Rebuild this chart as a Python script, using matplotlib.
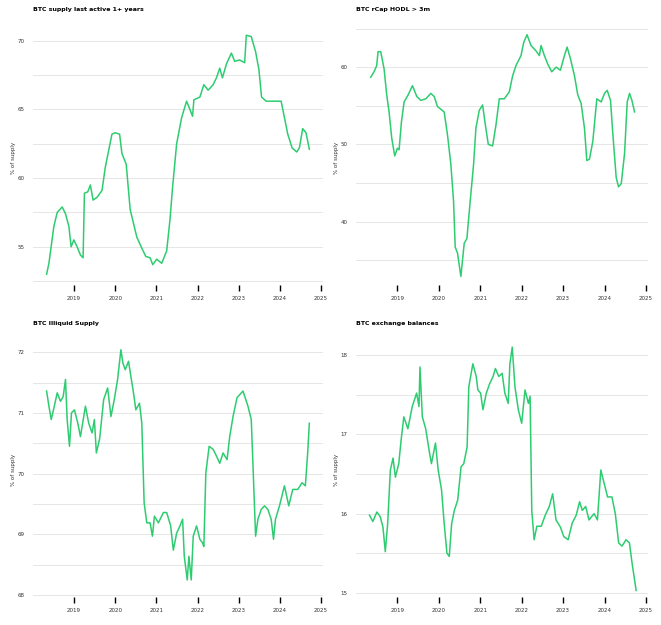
import matplotlib
matplotlib.use("Agg")
import matplotlib.pyplot as plt
import numpy as np

# ---- data (x in zoom-px converted to decimal years) ----
s1_x = [138,145,160,170,185,195,205,212,220,230,240,248,252,262,270,278,290,305,315,325,335,345,358,365,378,390,400,410,425,437,450,458,470,485,500,510,518,530,545,560,570,578,582,600,612,625,640,650,660,668,680,695,705,720,735,740,755,768,778,786,800,815,830,845,855,865,878,892,900,910,920,930]
s1_y = [53.0,53.8,56.5,57.5,57.9,57.4,56.5,55.0,55.5,55.0,54.4,54.2,58.9,59.0,59.5,58.4,58.6,59.1,60.8,62.0,63.2,63.3,63.2,61.8,61.0,57.7,56.7,55.7,54.9,54.3,54.2,53.7,54.1,53.8,54.7,57.0,59.4,62.5,64.4,65.6,65.0,64.5,65.7,65.9,66.8,66.4,66.8,67.3,68.0,67.3,68.3,69.1,68.5,68.6,68.4,70.4,70.3,69.2,67.9,65.9,65.6,65.6,65.6,65.6,64.4,63.2,62.2,61.9,62.2,63.6,63.3,62.1]

s2_x = [120,130,138,142,150,160,168,175,183,192,200,205,212,220,232,245,258,270,285,300,310,320,340,350,360,368,373,380,390,400,408,418,428,435,445,455,462,472,485,495,505,520,535,545,555,570,578,588,600,615,625,630,640,650,662,675,688,700,708,718,730,740,750,760,767,775,785,797,810,820,828,838,845,855,862,870,880,888,895,902,910]
s2_y = [58.7,59.4,60.2,62.0,62.0,59.8,56.4,54.2,50.8,48.5,49.5,49.3,52.9,55.5,56.4,57.6,56.2,55.7,55.9,56.6,56.2,54.9,54.2,51.2,47.4,42.7,36.7,35.9,32.9,37.2,37.8,42.7,47.4,52.1,54.4,55.1,52.9,50.0,49.8,52.5,55.9,55.9,56.8,58.9,60.2,61.5,63.2,64.2,62.8,62.1,61.5,62.8,61.5,60.4,59.4,60.0,59.6,61.5,62.6,61.1,58.9,56.4,55.3,52.1,47.9,48.1,50.4,55.9,55.5,56.6,57.0,55.7,51.3,45.7,44.5,44.9,48.8,55.5,56.6,55.7,54.2]

s3_x = [138,145,152,160,170,180,188,195,200,207,213,222,232,240,255,265,275,282,288,298,310,322,332,342,352,362,368,375,385,392,400,407,418,425,432,440,450,457,463,475,490,500,512,520,530,540,548,553,562,567,574,580,590,600,608,612,618,628,640,650,660,670,682,690,700,712,730,745,755,768,775,785,795,805,815,822,828,840,855,868,880,895,908,918,925,930]
s3_y = [71.36,71.11,70.89,71.08,71.33,71.19,71.27,71.55,70.89,70.45,71.0,71.05,70.83,70.61,71.11,70.83,70.67,70.89,70.34,70.58,71.22,71.41,70.94,71.22,71.55,72.04,71.82,71.71,71.85,71.60,71.33,71.05,71.16,70.83,69.52,69.19,69.19,68.97,69.30,69.19,69.36,69.36,69.14,68.74,69.02,69.14,69.25,68.64,68.25,68.64,68.25,68.97,69.14,68.92,68.86,68.80,70.01,70.45,70.40,70.29,70.17,70.34,70.23,70.61,70.94,71.25,71.36,71.11,70.89,68.97,69.25,69.41,69.47,69.41,69.25,68.92,69.25,69.47,69.80,69.47,69.74,69.74,69.85,69.80,70.34,70.83]

s4_x = [118,128,140,150,158,165,172,180,188,195,205,212,220,232,245,258,265,268,275,285,295,302,314,322,332,340,348,355,362,370,380,390,398,408,413,425,435,440,448,455,465,475,485,492,502,512,520,530,535,542,550,560,570,580,590,595,600,607,615,628,640,652,662,672,685,695,708,720,732,742,750,760,770,785,795,805,815,825,838,848,858,868,880,890,898,910]
s4_y = [15.98,15.90,16.02,15.96,15.83,15.52,15.87,16.55,16.70,16.46,16.63,16.93,17.22,17.07,17.35,17.52,17.35,17.85,17.22,17.07,16.80,16.63,16.89,16.55,16.30,15.87,15.50,15.46,15.87,16.04,16.17,16.59,16.63,16.84,17.60,17.89,17.73,17.56,17.52,17.31,17.52,17.64,17.73,17.83,17.73,17.77,17.52,17.39,17.89,18.10,17.60,17.31,17.14,17.56,17.39,17.48,16.04,15.67,15.84,15.84,15.98,16.09,16.25,15.92,15.83,15.71,15.67,15.88,15.98,16.15,16.04,16.09,15.92,16.00,15.92,16.55,16.38,16.21,16.21,16.00,15.63,15.59,15.67,15.63,15.37,15.03]

titles = ["BTC supply last active 1+ years", "BTC rCap HODL > 3m",
          "BTC Illiquid Supply", "BTC exchange balances"]
year_ticks = [2019, 2020, 2021, 2022, 2023, 2024, 2025]

def to_year(xs, x2019, per_year):
    return [2019 + (x - x2019) / per_year for x in xs]

series = [
    (to_year(s1_x, 221, 124), s1_y, (52.0, 71.0), [55, 60, 65, 70], 2.5),
    (to_year(s2_x, 200, 124), s2_y, (31.4, 65.2), [40, 50, 60], 5),
    (to_year(s3_x, 221, 124), s3_y, (67.92, 72.2), [68, 69, 70, 71, 72], 0.5),
    (to_year(s4_x, 201, 123), s4_y, (14.91, 18.19), [15, 16, 17, 18], 0.5),
]

W, H = 661, 625
fig = plt.figure(figsize=(W/100, H/100), dpi=100)
boxes = [(33, 323, 27, 288), (356, 648, 27, 288), (33, 323, 340, 600), (356, 648, 340, 600)]
green = "#2ecc71"

for (xs, ys, ylim, majors, step), (l, r, t, b), title in zip(series, boxes, titles):
    ax = fig.add_axes([l/W, 1 - b/H, (r-l)/W, (b-t)/H])
    ax.plot(xs, ys, color=green, lw=1.1)
    ax.set_xlim(2018.0, 2025.05)
    ax.set_ylim(*ylim)
    ax.set_yticks(majors)
    ax.set_yticklabels([str(m) for m in majors])
    grid = np.arange(np.ceil(ylim[0]/step)*step, ylim[1], step)
    for g in grid:
        ax.axhline(g, color="#e6e6e6", lw=0.7, zorder=0)
    ax.set_xticks(year_ticks)
    ax.set_xticklabels([str(y) for y in year_ticks])
    for s in ax.spines.values():
        s.set_visible(False)
    ax.tick_params(axis="y", length=0, labelsize=4, pad=6, labelcolor="#333333")
    ax.tick_params(axis="x", length=5, width=1, direction="inout", labelsize=4, pad=3, labelcolor="#333333")
    ax.set_ylabel("% of supply", fontsize=4, color="#333333", labelpad=1)
    fig.text(l/W, 1 - (t-17)/H, title, fontsize=4.5, fontweight="bold", va="center", ha="left")

fig.savefig("out.png", dpi=100)
